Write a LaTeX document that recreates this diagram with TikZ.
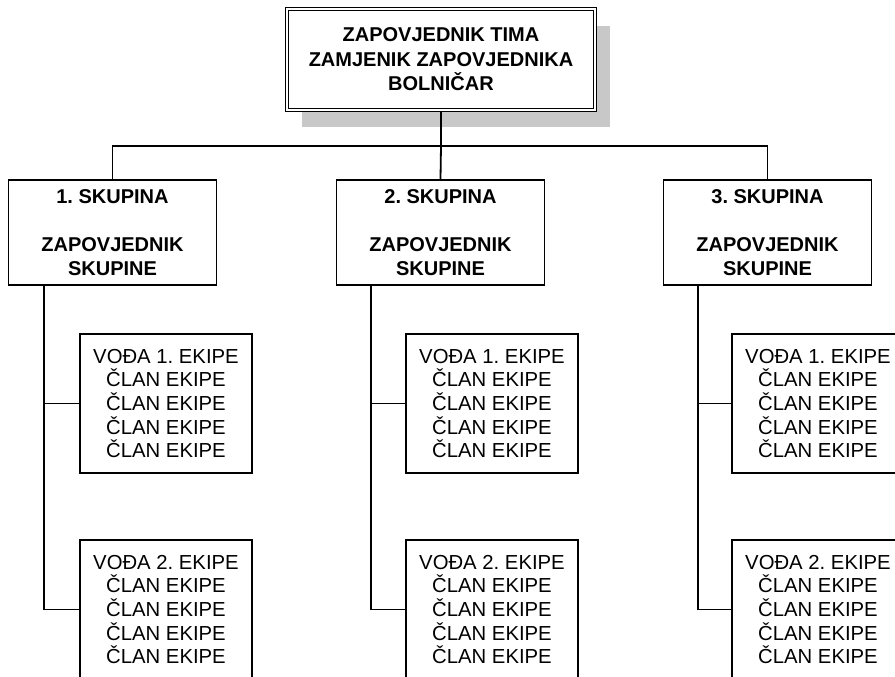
\documentclass[tikz,border=0pt]{standalone}
\usepackage{fontspec}
\setmainfont{Liberation Sans}
\frenchspacing
\usetikzlibrary{shadows}
\definecolor{shadowgray}{RGB}{200,200,200}
\tikzset{
  bossbox/.style={draw, fill=white, double, line width=1.5pt, double distance=1.6pt,
    minimum width=308pt, minimum height=101pt, inner sep=0pt, align=center,
    font=\fontsize{20}{24.5}\selectfont\bfseries,
    drop shadow={shadow xshift=15pt, shadow yshift=-17pt, fill=shadowgray, opacity=1}},
  groupbox/.style={draw, fill=white, line width=1.8pt, minimum width=208pt, minimum height=105pt,
    inner sep=0pt, align=center, font=\fontsize{20}{24}\selectfont\bfseries},
  teambox/.style={draw, fill=white, line width=1.8pt, minimum width=172pt, minimum height=139pt,
    inner sep=0pt, align=center, font=\fontsize{20.3}{23.6}\selectfont},
  link/.style={line width=1.8pt}
}
\begin{document}
\begin{tikzpicture}[x=1pt,y=-1pt]
\useasboundingbox (0,0) rectangle (895,677);
\clip (0,0) rectangle (895,677);

\node[bossbox] (boss) at (441,59.5) {ZAPOVJEDNIK TIMA\\ZAMJENIK ZAPOVJEDNIKA\\BOLNIČAR};

\node[groupbox] (g1) at (112.5,232.5) {1. SKUPINA\\[24pt]ZAPOVJEDNIK\\SKUPINE};
\node[groupbox] (g2) at (440.5,232.5) {2. SKUPINA\\[24pt]ZAPOVJEDNIK\\SKUPINE};
\node[groupbox] (g3) at (767.5,232.5) {3. SKUPINA\\[24pt]ZAPOVJEDNIK\\SKUPINE};

\node[teambox] (t11) at (166,403.5) {VOĐA 1. EKIPE\\ČLAN EKIPE\\ČLAN EKIPE\\ČLAN EKIPE\\ČLAN EKIPE};
\node[teambox] (t12) at (166,609.5) {VOĐA 2. EKIPE\\ČLAN EKIPE\\ČLAN EKIPE\\ČLAN EKIPE\\ČLAN EKIPE};
\node[teambox] (t21) at (492,403.5) {VOĐA 1. EKIPE\\ČLAN EKIPE\\ČLAN EKIPE\\ČLAN EKIPE\\ČLAN EKIPE};
\node[teambox] (t22) at (492,609.5) {VOĐA 2. EKIPE\\ČLAN EKIPE\\ČLAN EKIPE\\ČLAN EKIPE\\ČLAN EKIPE};
\node[teambox] (t31) at (818,403.5) {VOĐA 1. EKIPE\\ČLAN EKIPE\\ČLAN EKIPE\\ČLAN EKIPE\\ČLAN EKIPE};
\node[teambox] (t32) at (818,609.5) {VOĐA 2. EKIPE\\ČLAN EKIPE\\ČLAN EKIPE\\ČLAN EKIPE\\ČLAN EKIPE};

% top level
\coordinate (bus) at (441,146);
\draw[link] (boss.south) -- (bus);
\draw[link] (g1.north) |- (bus) -| (g3.north);
\draw[link] (bus) -- (g2.north);

% spines
\coordinate (s1) at ([xshift=36pt]g1.south west);
\coordinate (s2) at ([xshift=35pt]g2.south west);
\coordinate (s3) at ([xshift=35pt]g3.south west);
\draw[link] (s1) |- (t12.west) (s1 |- t11.west) -- (t11.west);
\draw[link] (s2) |- (t22.west) (s2 |- t21.west) -- (t21.west);
\draw[link] (s3) |- (t32.west) (s3 |- t31.west) -- (t31.west);

\end{tikzpicture}
\end{document}
